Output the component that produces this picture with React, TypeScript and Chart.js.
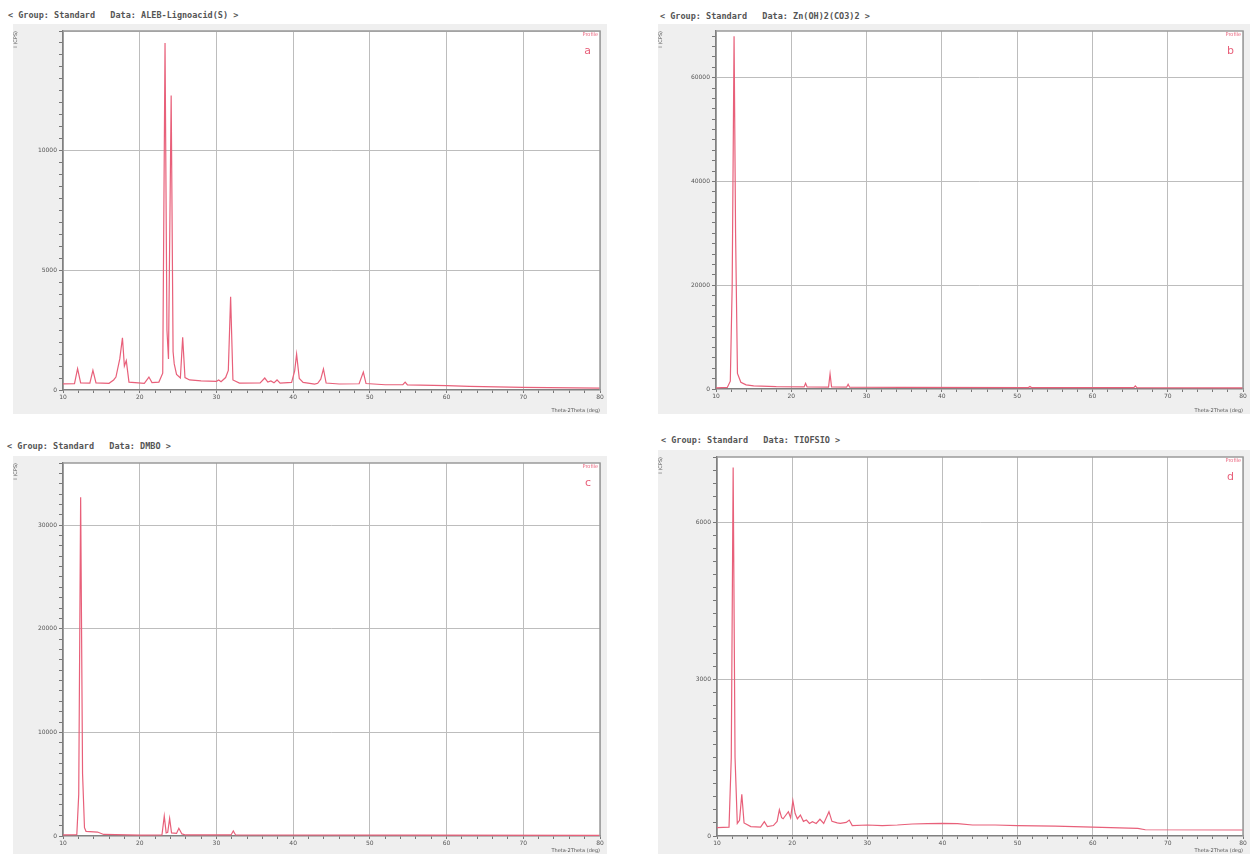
import React, { useEffect, useRef } from "react";
import { Chart, registerables } from "chart.js";

Chart.register(...registerables);

// ---- data: [2-theta (deg), intensity (CPS)] ----
const patternA: [number, number][] = [
  [10.0, 260], [11.5, 270], [11.9, 890], [12.3, 300], [13.5, 290], [13.9, 820], [14.3, 300],
  [16.0, 280], [16.6, 420], [16.9, 540], [17.4, 1300], [17.75, 2180], [18.0, 1000], [18.25, 1230],
  [18.6, 330], [20.6, 280], [21.2, 540], [21.6, 310], [22.5, 330], [23.0, 700], [23.3, 14500],
  [23.55, 2500], [23.75, 1300], [24.1, 12300], [24.35, 1600], [24.5, 1090], [24.8, 650],
  [25.3, 500], [25.6, 2200], [25.9, 520], [26.5, 420], [28.0, 380], [30.0, 360], [30.3, 420],
  [30.6, 350], [31.2, 520], [31.55, 820], [31.85, 3900], [32.15, 420], [33.0, 290], [35.7, 300],
  [36.3, 500], [36.7, 330], [37.1, 380], [37.5, 300], [37.9, 420], [38.3, 290], [39.8, 320],
  [40.2, 800], [40.45, 1500], [40.8, 480], [41.3, 320], [42.8, 250], [43.2, 280], [43.6, 450],
  [43.95, 880], [44.3, 290], [46.0, 250], [48.6, 260], [49.15, 750], [49.5, 270], [52.0, 220],
  [54.3, 220], [54.6, 330], [54.9, 210], [60.0, 180], [63.0, 150], [70.0, 110], [80.0, 80],
];

const patternB: [number, number][] = [
  [10.0, 200], [11.5, 300], [11.9, 1500], [12.15, 20000], [12.4, 68000], [12.6, 30000],
  [12.85, 3000], [13.3, 1300], [14.0, 800], [15.0, 600], [18.0, 450], [21.7, 400], [21.9, 1100],
  [22.1, 400], [24.95, 380], [25.15, 2900], [25.35, 380], [27.35, 350], [27.55, 900], [27.75, 350],
  [35.0, 300], [51.5, 280], [51.7, 500], [51.9, 280], [65.5, 250], [65.7, 600], [65.9, 250],
  [80.0, 200],
];

const patternC: [number, number][] = [
  [10.0, 100], [11.8, 120], [12.05, 4000], [12.3, 32700], [12.55, 6000], [12.8, 800], [13.0, 450],
  [14.5, 380], [15.3, 150], [20.0, 80], [22.9, 100], [23.2, 1920], [23.45, 300], [23.65, 350],
  [23.9, 1700], [24.15, 300], [24.8, 250], [25.1, 740], [25.5, 200], [26.0, 100], [31.9, 100],
  [32.2, 480], [32.5, 100], [80.0, 60],
];

const patternD: [number, number][] = [
  [10.0, 160], [11.6, 170], [11.9, 1500], [12.15, 7050], [12.4, 1500], [12.7, 240], [13.0, 300],
  [13.3, 800], [13.6, 250], [14.5, 180], [15.8, 170], [16.3, 275], [16.7, 180], [17.5, 200],
  [18.0, 280], [18.3, 500], [18.6, 350], [18.8, 330], [19.5, 465], [19.8, 350], [20.1, 675],
  [20.4, 430], [20.7, 330], [21.1, 400], [21.5, 280], [21.9, 305], [22.3, 240], [22.7, 275],
  [23.2, 240], [23.7, 320], [24.2, 240], [24.9, 465], [25.3, 280], [26.0, 250], [26.4, 240],
  [27.2, 260], [27.6, 305], [28.0, 200], [30.0, 210], [32.0, 200], [34.0, 210], [36.0, 230],
  [38.0, 235], [40.0, 240], [42.0, 235], [44.0, 210], [47.0, 210], [50.0, 200], [55.0, 190],
  [60.0, 170], [66.0, 145], [67.0, 120], [80.0, 115],
];

// ---- tick labels ----
const xTickLabels = [10, 20, 30, 40, 50, 60, 70, 80];
const yTicksA = [0, 5000, 10000];
const yTicksB = [0, 20000, 40000, 60000];
const yTicksC = [0, 10000, 20000, 30000];
const yTicksD = [0, 3000, 6000];

const panelTitles = [
  "< Group: Standard   Data: ALEB-Lignoacid(S) >",
  "< Group: Standard   Data: Zn(OH)2(CO3)2 >",
  "< Group: Standard   Data: DMBO >",
  "< Group: Standard   Data: TIOFSIO >",
];
const panelLetters = ["a", "b", "c", "d"];

const RED = "#e8607a";
const GRID = "#bdbdbd";
const TICK_FONT = { family: "DejaVu Sans", size: 6 };

type PanelProps = {
  left: number;
  top: number;
  width: number;
  height: number;
  leftW: number;
  bottomH: number;
  padTop: number;
  padRight: number;
  pattern: [number, number][];
  yTicks: number[];
  yMax: number;
  yMinor: number;
  letter: string;
};

function Panel(p: PanelProps) {
  const ref = useRef<HTMLCanvasElement>(null);
  useEffect(() => {
    const yMajor = p.yTicks[1];
    const frame = {
      id: "frame",
      beforeDraw(chart: any) {
        const { ctx, chartArea: a, width, height } = chart;
        ctx.save();
        ctx.fillStyle = "#efefef";
        ctx.fillRect(0, 0, width, height);
        ctx.fillStyle = "#ffffff";
        ctx.fillRect(a.left, a.top, a.right - a.left, a.bottom - a.top);
        ctx.restore();
      },
      afterDraw(chart: any) {
        const { ctx, chartArea: a } = chart;
        ctx.save();
        ctx.strokeStyle = "#9a9a9a";
        ctx.lineWidth = 1.5;
        ctx.beginPath();
        ctx.moveTo(a.left, a.top);
        ctx.lineTo(a.right, a.top);
        ctx.lineTo(a.right, a.bottom);
        ctx.stroke();
        ctx.fillStyle = RED;
        ctx.textAlign = "right";
        ctx.textBaseline = "top";
        ctx.font = "5px 'DejaVu Sans'";
        ctx.fillText("Profile", a.right - 2, a.top + 1);
        ctx.font = "11px 'DejaVu Sans'";
        ctx.fillText(p.letter, a.right - 9, a.top + 15);
        ctx.restore();
      },
    };
    const chart = new Chart(ref.current as HTMLCanvasElement, {
      type: "line",
      data: {
        datasets: [
          {
            data: p.pattern.map(([x, y]) => ({ x, y })),
            borderColor: RED,
            borderWidth: 1.2,
            pointRadius: 0,
            tension: 0,
          },
        ],
      },
      options: {
        animation: false,
        responsive: false,
        devicePixelRatio: 1,
        layout: { padding: { top: p.padTop, right: p.padRight, left: 0, bottom: 0 } },
        plugins: { legend: { display: false }, tooltip: { enabled: false } },
        scales: {
          x: {
            type: "linear",
            min: 10,
            max: 80,
            afterFit: (s: any) => {
              s.height = p.bottomH;
            },
            afterBuildTicks: (s: any) => {
              const t = [];
              for (let v = 10; v <= 80; v += 2) t.push({ value: v });
              s.ticks = t;
            },
            ticks: {
              autoSkip: false,
              maxRotation: 0,
              padding: 1,
              color: "#555",
              font: TICK_FONT,
              callback: (v: any) => (xTickLabels.includes(v) ? String(v) : ""),
            },
            grid: {
              color: (c: any) =>
                c.tick && xTickLabels.includes(c.tick.value) ? GRID : "rgba(0,0,0,0)",
              tickColor: "#777",
              tickLength: 3,
            },
            border: { color: "#808080", width: 1.5 },
            title: {
              display: true,
              text: "Theta-2Theta (deg)",
              align: "end",
              color: "#555",
              font: { family: "DejaVu Sans", size: 5 },
              padding: 0,
            },
          },
          y: {
            type: "linear",
            min: 0,
            max: p.yMax,
            afterFit: (s: any) => {
              s.width = p.leftW;
            },
            afterBuildTicks: (s: any) => {
              const t = [];
              for (let v = 0; v <= p.yMax; v += p.yMinor) t.push({ value: v });
              s.ticks = t;
            },
            ticks: {
              autoSkip: false,
              padding: 2,
              color: "#555",
              font: TICK_FONT,
              callback: (v: any) => (p.yTicks.includes(v) ? String(v) : ""),
            },
            grid: {
              color: (c: any) =>
                c.tick && c.tick.value > 0 && c.tick.value % yMajor === 0 ? GRID : "rgba(0,0,0,0)",
              tickColor: "#777",
              tickLength: 4,
            },
            border: { color: "#808080", width: 1.5 },
            title: {
              display: true,
              text: "I (CPS)",
              align: "end",
              color: "#555",
              font: { family: "DejaVu Sans", size: 5 },
              padding: 0,
            },
          },
        },
      },
      plugins: [frame],
    } as any);
    return () => chart.destroy();
  }, []);
  return (
    <canvas
      ref={ref}
      width={p.width}
      height={p.height}
      style={{ position: "absolute", left: p.left, top: p.top, width: p.width, height: p.height }}
    />
  );
}

const titleStyle: React.CSSProperties = {
  position: "absolute",
  font: "bold 8.5px 'DejaVu Sans Mono'",
  color: "#555",
  whiteSpace: "pre",
  lineHeight: "10px",
};

export default function App() {
  return (
    <div style={{ position: "absolute", left: 0, top: 0, width: 1256, height: 854, background: "#fff" }}>
      <div style={{ ...titleStyle, left: 8, top: 10 }}>{panelTitles[0]}</div>
      <div style={{ ...titleStyle, left: 660, top: 11 }}>{panelTitles[1]}</div>
      <div style={{ ...titleStyle, left: 7, top: 441 }}>{panelTitles[2]}</div>
      <div style={{ ...titleStyle, left: 661, top: 435 }}>{panelTitles[3]}</div>
      <Panel left={13} top={24} width={594} height={390} leftW={50} bottomH={24} padTop={7} padRight={7}
        pattern={patternA} yTicks={yTicksA} yMax={15000} yMinor={500} letter={panelLetters[0]} />
      <Panel left={658} top={24} width={592} height={390} leftW={58} bottomH={25} padTop={7} padRight={7}
        pattern={patternB} yTicks={yTicksB} yMax={69000} yMinor={2000} letter={panelLetters[1]} />
      <Panel left={13} top={456} width={594} height={398} leftW={50} bottomH={18} padTop={7} padRight={7}
        pattern={patternC} yTicks={yTicksC} yMax={36000} yMinor={1000} letter={panelLetters[2]} />
      <Panel left={658} top={450} width={592} height={404} leftW={59} bottomH={18} padTop={7} padRight={7}
        pattern={patternD} yTicks={yTicksD} yMax={7250} yMinor={250} letter={panelLetters[3]} />
    </div>
  );
}
